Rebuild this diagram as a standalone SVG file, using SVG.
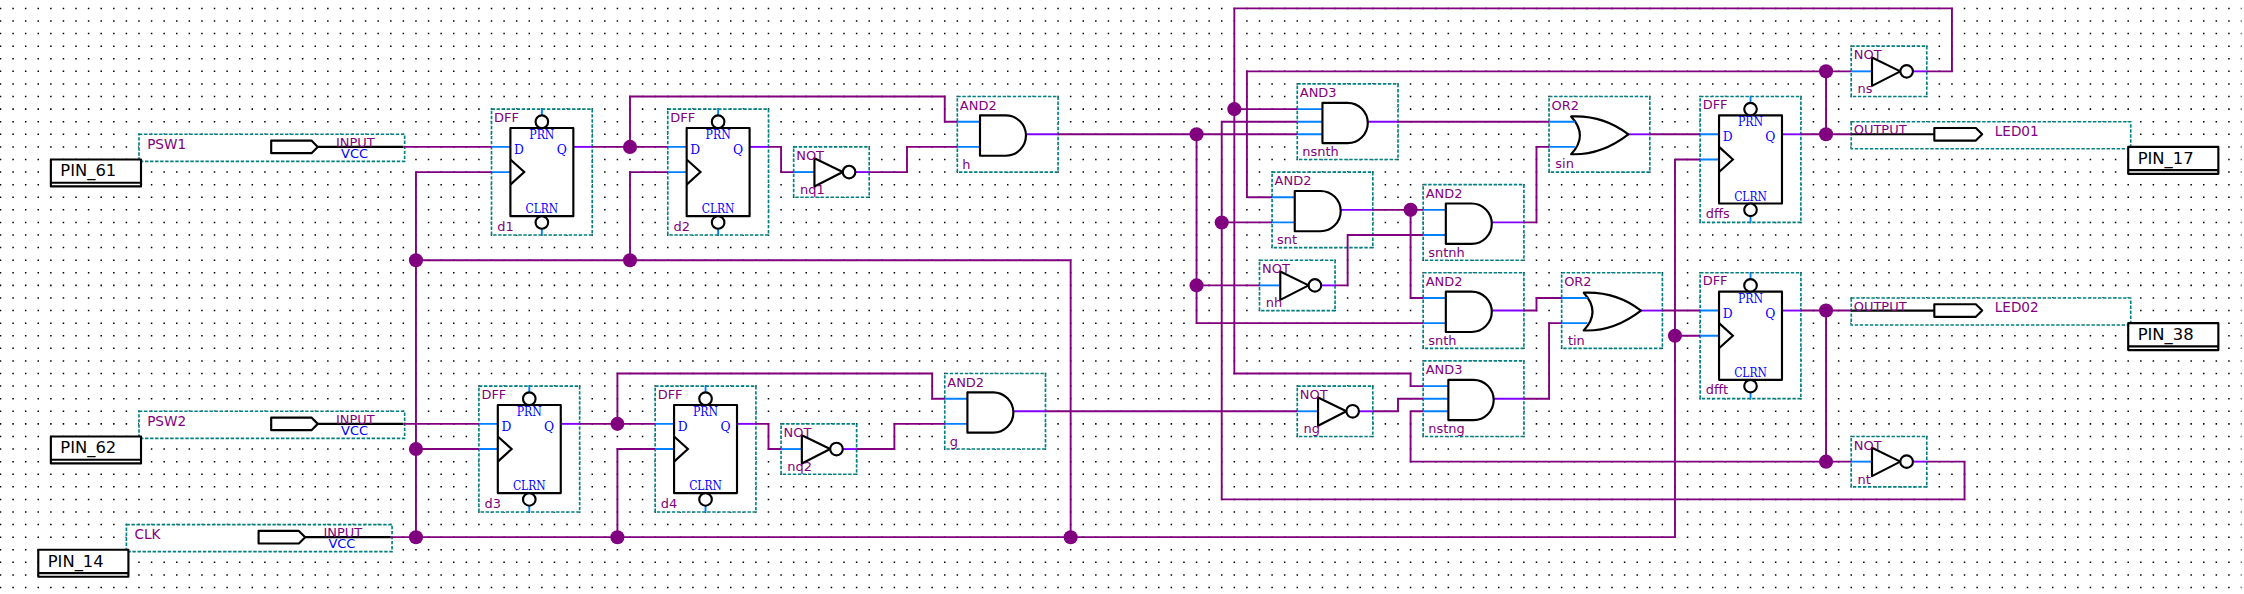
<svg xmlns="http://www.w3.org/2000/svg" width="2244" height="594" viewBox="0 0 2244 594">
<style>
.w{fill:none;stroke:#800080;stroke-width:.15}
.j{fill:#800080}
.b{fill:#fff;stroke:#008080;stroke-width:.13;stroke-dasharray:.27 .13}
.k{fill:#fff;stroke:#000;stroke-width:.17;stroke-linejoin:round}
.n{fill:none;stroke:#000;stroke-width:.17}
.i{fill:none;stroke:#0080ff;stroke-width:.15}
.o{fill:none;stroke:#8000ff;stroke-width:.15}
text{font-family:"DejaVu Sans",sans-serif;font-size:1.03px}
.t{fill:#800080}
.l{font-size:1.08px}
.v{fill:#0000ff}
.m{fill:#0000ff;font-family:"DejaVu Serif",serif;font-size:.98px;font-weight:400}
.c{text-anchor:middle}
.p{fill:#000;font-size:1.3px}
</style>
<defs>
<g id="dff">
<rect class="b" width="8" height="10"/>
<path class="i" d="M0 3H1.5M0 5H1.5M4 0V.5M4 9.5V10"/>
<path class="o" d="M6.5 3H8"/>
<rect class="k" x="1.5" y="1.5" width="5" height="7"/>
<path class="n" d="M1.5 4L2.6 5L1.5 6"/>
<circle class="k" cx="4" cy="1" r=".5"/>
<circle class="k" cx="4" cy="9" r=".5"/>
</g>
<g id="and2">
<rect class="b" width="8" height="6"/>
<path class="i" d="M0 2H1.8M0 4H1.8"/>
<path class="o" d="M5.3 3H8"/>
<path class="k" d="M1.8 1.5H3.85A1.6 1.6 0 0 1 3.85 4.7H1.8Z"/>
</g>
<g id="and3">
<rect class="b" width="8" height="6"/>
<path class="i" d="M0 2H2M0 3H2M0 4H2"/>
<path class="o" d="M5.4 3H8"/>
<path class="k" d="M2 1.5H4A1.6 1.6 0 0 1 4 4.7H2Z"/>
</g>
<g id="or2">
<rect class="b" width="8" height="6"/>
<path class="o" d="M6.2 3H8"/>
<path class="k" d="M1.75 1.58C3.5 1.5 5 2 6.3 3C5 4 3.5 4.65 1.75 4.58Q3.15 3.1 1.75 1.58Z"/>
<path class="i" d="M0 2H2.05M0 4H2.05"/>
</g>
<g id="not">
<rect class="b" width="6" height="4"/>
<path class="i" d="M0 2H1.65"/>
<path class="o" d="M4.85 2H6"/>
<path class="k" d="M1.65 .9L3.9 2L1.65 3.15Z"/>
<circle class="k" cx="4.4" cy="2" r=".5"/>
</g>
<g id="inp">
<rect class="b" width="21.1" height="2.15"/>
<path class="n" d="M14.2 1H21"/>
<path class="k" d="M10.5 .5H13.7L14.2 1L13.7 1.5H10.5Z"/>
</g>
<g id="out">
<rect class="b" width="22.2" height="2.15"/>
<path class="n" d="M0 1H6.6"/>
<path class="k" d="M6.6 .5H9.9L10.4 1L9.9 1.5H6.6Z"/>
</g>
<g id="pin">
<rect class="k" width="7.16" height="2.14"/>
<path class="n" d="M0 1.85H7.16"/>
</g>
</defs>
<rect width="2244" height="594" fill="#fff"/>
<g transform="translate(.5 8.4) scale(12.59)">
<path id="grid" fill="none" stroke="#000" stroke-width=".12" stroke-dasharray=".12 .88" d="M-.06 0H178M-.06 1H178M-.06 2H178M-.06 3H178M-.06 4H178M-.06 5H178M-.06 6H178M-.06 7H178M-.06 8H178M-.06 9H178M-.06 10H178M-.06 11H178M-.06 12H178M-.06 13H178M-.06 14H178M-.06 15H178M-.06 16H178M-.06 17H178M-.06 18H178M-.06 19H178M-.06 20H178M-.06 21H178M-.06 22H178M-.06 23H178M-.06 24H178M-.06 25H178M-.06 26H178M-.06 27H178M-.06 28H178M-.06 29H178M-.06 30H178M-.06 31H178M-.06 32H178M-.06 33H178M-.06 34H178M-.06 35H178M-.06 36H178M-.06 37H178M-.06 38H178M-.06 39H178M-.06 40H178M-.06 41H178M-.06 42H178M-.06 43H178M-.06 44H178M-.06 45H178M-.06 46H178"/>
<g id="n-PSW1" transform="translate(11 10)"><use href="#inp"/><text class="t l" x=".65" y="1.17">PSW1</text><text class="t" x="15.65" y=".98">INPUT</text><text class="v" x="16.05" y="1.9">VCC</text></g>
<g id="n-PSW2" transform="translate(11 32)"><use href="#inp"/><text class="t l" x=".65" y="1.17">PSW2</text><text class="t" x="15.65" y=".98">INPUT</text><text class="v" x="16.05" y="1.9">VCC</text></g>
<g id="n-CLK" transform="translate(10 41)"><use href="#inp"/><text class="t l" x=".65" y="1.17">CLK</text><text class="t" x="15.65" y=".98">INPUT</text><text class="v" x="16.05" y="1.9">VCC</text></g>
<g id="n-d1" transform="translate(39 8)"><use href="#dff"/><text class="t" x=".2" y="1">DFF</text><text class="t" x=".45" y="9.65">d1</text><text class="m c" x="4" y="2.37" textLength="2" lengthAdjust="spacingAndGlyphs">PRN</text><text class="m c" x="4" y="8.27" textLength="2.6" lengthAdjust="spacingAndGlyphs">CLRN</text><text class="m" x="1.79" y="3.56">D</text><text class="m" x="5.18" y="3.56">Q</text></g>
<g id="n-d2" transform="translate(53 8)"><use href="#dff"/><text class="t" x=".2" y="1">DFF</text><text class="t" x=".45" y="9.65">d2</text><text class="m c" x="4" y="2.37" textLength="2" lengthAdjust="spacingAndGlyphs">PRN</text><text class="m c" x="4" y="8.27" textLength="2.6" lengthAdjust="spacingAndGlyphs">CLRN</text><text class="m" x="1.79" y="3.56">D</text><text class="m" x="5.18" y="3.56">Q</text></g>
<g id="n-d3" transform="translate(38 30)"><use href="#dff"/><text class="t" x=".2" y="1">DFF</text><text class="t" x=".45" y="9.65">d3</text><text class="m c" x="4" y="2.37" textLength="2" lengthAdjust="spacingAndGlyphs">PRN</text><text class="m c" x="4" y="8.27" textLength="2.6" lengthAdjust="spacingAndGlyphs">CLRN</text><text class="m" x="1.79" y="3.56">D</text><text class="m" x="5.18" y="3.56">Q</text></g>
<g id="n-d4" transform="translate(52 30)"><use href="#dff"/><text class="t" x=".2" y="1">DFF</text><text class="t" x=".45" y="9.65">d4</text><text class="m c" x="4" y="2.37" textLength="2" lengthAdjust="spacingAndGlyphs">PRN</text><text class="m c" x="4" y="8.27" textLength="2.6" lengthAdjust="spacingAndGlyphs">CLRN</text><text class="m" x="1.79" y="3.56">D</text><text class="m" x="5.18" y="3.56">Q</text></g>
<g id="n-dffs" transform="translate(135 7)"><use href="#dff"/><text class="t" x=".2" y="1">DFF</text><text class="t" x=".45" y="9.65">dffs</text><text class="m c" x="4" y="2.37" textLength="2" lengthAdjust="spacingAndGlyphs">PRN</text><text class="m c" x="4" y="8.27" textLength="2.6" lengthAdjust="spacingAndGlyphs">CLRN</text><text class="m" x="1.79" y="3.56">D</text><text class="m" x="5.18" y="3.56">Q</text></g>
<g id="n-dfft" transform="translate(135 21)"><use href="#dff"/><text class="t" x=".2" y="1">DFF</text><text class="t" x=".45" y="9.65">dfft</text><text class="m c" x="4" y="2.37" textLength="2" lengthAdjust="spacingAndGlyphs">PRN</text><text class="m c" x="4" y="8.27" textLength="2.6" lengthAdjust="spacingAndGlyphs">CLRN</text><text class="m" x="1.79" y="3.56">D</text><text class="m" x="5.18" y="3.56">Q</text></g>
<g id="n-nq1" transform="translate(63 11)"><use href="#not"/><text class="t" x=".2" y="1.05">NOT</text><text class="t" x=".5" y="3.75">nq1</text></g>
<g id="n-nq2" transform="translate(62 33)"><use href="#not"/><text class="t" x=".2" y="1.05">NOT</text><text class="t" x=".5" y="3.75">nq2</text></g>
<g id="n-nh" transform="translate(100 20)"><use href="#not"/><text class="t" x=".2" y="1.05">NOT</text><text class="t" x=".5" y="3.75">nh</text></g>
<g id="n-ng" transform="translate(103 30)"><use href="#not"/><text class="t" x=".2" y="1.05">NOT</text><text class="t" x=".5" y="3.75">ng</text></g>
<g id="n-ns" transform="translate(147 3)"><use href="#not"/><text class="t" x=".2" y="1.05">NOT</text><text class="t" x=".5" y="3.75">ns</text></g>
<g id="n-nt" transform="translate(147 34)"><use href="#not"/><text class="t" x=".2" y="1.05">NOT</text><text class="t" x=".5" y="3.75">nt</text></g>
<g id="n-h" transform="translate(76 7)"><use href="#and2"/><text class="t" x=".2" y="1.05">AND2</text><text class="t" x=".4" y="5.75">h</text></g>
<g id="n-g" transform="translate(75 29)"><use href="#and2"/><text class="t" x=".2" y="1.05">AND2</text><text class="t" x=".4" y="5.75">g</text></g>
<g id="n-snt" transform="translate(101 13)"><use href="#and2"/><text class="t" x=".2" y="1.05">AND2</text><text class="t" x=".4" y="5.75">snt</text></g>
<g id="n-sntnh" transform="translate(113 14)"><use href="#and2"/><text class="t" x=".2" y="1.05">AND2</text><text class="t" x=".4" y="5.75">sntnh</text></g>
<g id="n-snth" transform="translate(113 21)"><use href="#and2"/><text class="t" x=".2" y="1.05">AND2</text><text class="t" x=".4" y="5.75">snth</text></g>
<g id="n-nsnth" transform="translate(103 6)"><use href="#and3"/><text class="t" x=".2" y="1.05">AND3</text><text class="t" x=".4" y="5.75">nsnth</text></g>
<g id="n-nstng" transform="translate(113 28)"><use href="#and3"/><text class="t" x=".2" y="1.05">AND3</text><text class="t" x=".4" y="5.75">nstng</text></g>
<g id="n-sin" transform="translate(123 7)"><use href="#or2"/><text class="t" x=".2" y="1.05">OR2</text><text class="t" x=".5" y="5.7">sin</text></g>
<g id="n-tin" transform="translate(124 21)"><use href="#or2"/><text class="t" x=".2" y="1.05">OR2</text><text class="t" x=".5" y="5.7">tin</text></g>
<g id="n-LED01" transform="translate(147 9)"><use href="#out"/><text class="t" x=".2" y="1">OUTPUT</text><text class="t l" x="11.4" y="1.13">LED01</text></g>
<g id="n-LED02" transform="translate(147 23)"><use href="#out"/><text class="t" x=".2" y="1">OUTPUT</text><text class="t l" x="11.4" y="1.13">LED02</text></g>
<g id="n-PIN_61" transform="translate(4 12)"><use href="#pin"/><text class="p" x=".75" y="1.35">PIN_61</text></g>
<g id="n-PIN_62" transform="translate(4 34)"><use href="#pin"/><text class="p" x=".75" y="1.35">PIN_62</text></g>
<g id="n-PIN_14" transform="translate(3 43)"><use href="#pin"/><text class="p" x=".75" y="1.35">PIN_14</text></g>
<g id="n-PIN_17" transform="translate(169 11)"><use href="#pin"/><text class="p" x=".75" y="1.35">PIN_17</text></g>
<g id="n-PIN_38" transform="translate(169 25)"><use href="#pin"/><text class="p" x=".75" y="1.35">PIN_38</text></g>
<g id="connectors">
<path class="w" d="M32 11H39"/>
<path class="w" d="M32 33H38"/>
<path class="w" d="M31 42H133M33 13V42M33 13H39M33 35H38M33 20H85V42M50 20V13H53M49 42V35H52M133 12V42M133 12H135M133 26H135"/>
<path class="w" d="M47 11H53M50 11V7H75V9H76"/>
<path class="w" d="M46 33H52M49 33V29H74V31H75"/>
<path class="w" d="M61 11H62V13H63"/>
<path class="w" d="M69 13H72V11H76"/>
<path class="w" d="M60 33H61V35H62"/>
<path class="w" d="M68 35H71V33H75"/>
<path class="w" d="M84 10H103M95 10V25H113M95 22H100"/>
<path class="w" d="M83 32H103"/>
<path class="w" d="M111 9H123"/>
<path class="w" d="M109 16H113M112 16V23H113"/>
<path class="w" d="M106 22H107V18H113"/>
<path class="w" d="M121 17H122V11H123"/>
<path class="w" d="M131 10H135"/>
<path class="w" d="M121 24H122V23H124"/>
<path class="w" d="M109 32H111V31H113"/>
<path class="w" d="M121 31H123V25H124"/>
<path class="w" d="M132 24H135"/>
<path class="w" d="M143 10H147M145 10V5M99 15V5H147M99 15H101"/>
<path class="w" d="M153 5H155V0H98V29H112V30H113M98 8H103"/>
<path class="w" d="M153 36H156V39H97V9H103M97 17H101"/>
<path class="w" d="M143 24H147M145 24V36M112 32V36H147M112 32H113"/>
<g class="j">
<circle cx="33" cy="20" r=".56"/><circle cx="33" cy="35" r=".56"/><circle cx="33" cy="42" r=".56"/>
<circle cx="50" cy="11" r=".56"/><circle cx="50" cy="20" r=".56"/><circle cx="49" cy="33" r=".56"/>
<circle cx="49" cy="42" r=".56"/><circle cx="85" cy="42" r=".56"/><circle cx="95" cy="10" r=".56"/>
<circle cx="95" cy="22" r=".56"/><circle cx="98" cy="8" r=".56"/><circle cx="97" cy="17" r=".56"/>
<circle cx="112" cy="16" r=".56"/><circle cx="133" cy="26" r=".56"/><circle cx="145" cy="5" r=".56"/>
<circle cx="145" cy="10" r=".56"/><circle cx="145" cy="24" r=".56"/><circle cx="145" cy="36" r=".56"/>
</g>
</g>
</g>
</svg>
